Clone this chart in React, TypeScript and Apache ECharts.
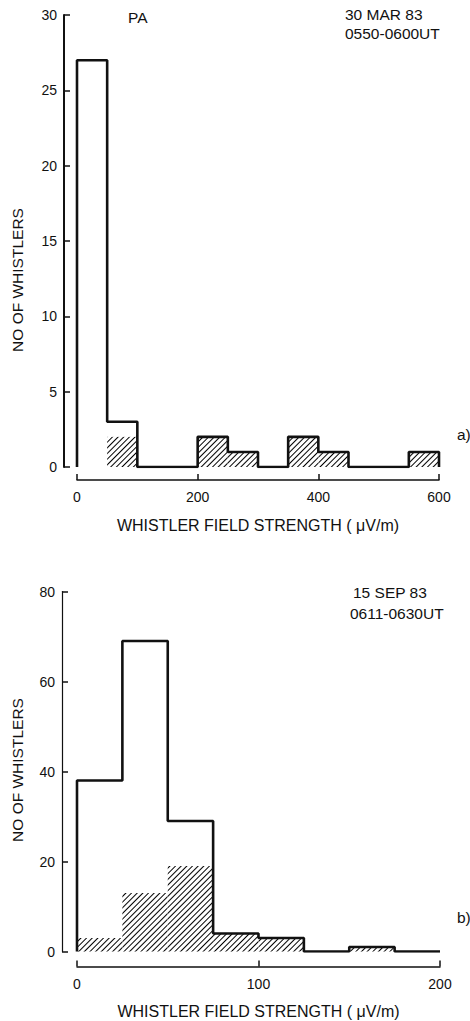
import React, { useEffect, useRef } from "react";
import * as echarts from "echarts";

// ---- data ----
const binsA = ["0-50", "50-100", "100-150", "150-200", "200-250", "250-300", "300-350", "350-400", "400-450", "450-500", "500-550", "550-600"];
const totalA = [27, 3, 0, 0, 2, 1, 0, 2, 1, 0, 0, 1];
const hatchA = [0, 2, 0, 0, 2, 1, 0, 2, 1, 0, 0, 1];
const binWidthA = 50;

const binsB = ["0-25", "25-50", "50-75", "75-100", "100-125", "125-150", "150-175", "175-200"];
const totalB = [38, 69, 29, 4, 3, 0, 1, 0];
const hatchB = [3, 13, 19, 4, 3, 0, 1, 0];
const binWidthB = 25;

const FONT = "'Liberation Sans', Arial, Helvetica, sans-serif";
const INK = "#111";

function stepPoints(vals: number[], w: number) {
  const pts: number[][] = [[0, 0]];
  vals.forEach((v, i) => {
    pts.push([i * w, v]);
    pts.push([(i + 1) * w, v]);
  });
  pts.push([vals.length * w, 0]);
  return pts;
}

const decal = {
  symbol: "rect",
  symbolSize: 1,
  color: "#000",
  backgroundColor: "#fff",
  dashArrayX: [1, 2.2],
  dashArrayY: [1, 0],
  rotation: Math.PI / 4,
};

function valueX(grid: number, max: number, interval: number, offset: number) {
  return {
    type: "value",
    gridIndex: grid,
    position: "bottom",
    min: 0,
    max,
    interval,
    offset,
    name: "WHISTLER FIELD STRENGTH ( \u03bcV/m)",
    nameLocation: "middle",
    nameGap: 37,
    nameTextStyle: { fontFamily: FONT, fontSize: 16, color: INK },
    axisLine: { show: true, onZero: false, lineStyle: { color: INK, width: 1.5 } },
    axisTick: { show: true, inside: true, length: 6, lineStyle: { color: INK, width: 1.5 } },
    axisLabel: { fontFamily: FONT, fontSize: 14, color: INK, margin: 10 },
    splitLine: { show: false },
  };
}

function catX(grid: number, cats: string[]) {
  return {
    type: "category",
    gridIndex: grid,
    position: "top",
    data: cats,
    boundaryGap: true,
    show: false,
    axisLine: { onZero: false },
  };
}

function valueY(grid: number, max: number, interval: number, offset: number, lw: number) {
  return {
    type: "value",
    gridIndex: grid,
    position: "left",
    min: 0,
    max,
    interval,
    offset,
    axisLine: { show: true, onZero: false, lineStyle: { color: INK, width: lw } },
    axisTick: { show: true, inside: true, length: 6, lineStyle: { color: INK, width: 1.5 } },
    axisLabel: { fontFamily: FONT, fontSize: 14, color: INK, margin: 7 },
    splitLine: { show: false },
  };
}

function txt(text: string, x: number, y: number, opts: any = {}) {
  return {
    type: "text",
    x,
    y,
    rotation: opts.rotation || 0,
    style: {
      text,
      fill: INK,
      font: `${opts.size || 15.5}px ${FONT}`,
      textAlign: opts.align || "left",
      textVerticalAlign: "middle",
    },
  };
}

export default function App() {
  const ref = useRef<HTMLDivElement>(null);
  useEffect(() => {
    if (!ref.current) return;
    const chart = echarts.init(ref.current, null, { renderer: "svg" });
    chart.setOption({
      animation: false,
      backgroundColor: "#fff",
      grid: [
        { left: 77, top: 15, width: 362, height: 452 },
        { left: 77, top: 591.5, width: 363, height: 360 },
      ],
      xAxis: [
        catX(0, binsA),
        valueX(0, 600, 200, 13),
        catX(1, binsB),
        valueX(1, 200, 100, 15),
      ],
      yAxis: [valueY(0, 30, 5, 13, 2), valueY(1, 80, 20, 15, 1.2)],
      series: [
        {
          type: "bar",
          xAxisIndex: 0,
          yAxisIndex: 0,
          data: hatchA,
          barWidth: "100%",
          itemStyle: { color: "#fff", decal },
          z: 2,
        },
        {
          type: "line",
          xAxisIndex: 1,
          yAxisIndex: 0,
          data: stepPoints(totalA, binWidthA),
          symbol: "none",
          lineStyle: { color: INK, width: 2.6 },
          z: 5,
        },
        {
          type: "bar",
          xAxisIndex: 2,
          yAxisIndex: 1,
          data: hatchB,
          barWidth: "100%",
          itemStyle: { color: "#fff", decal },
          z: 2,
        },
        {
          type: "line",
          xAxisIndex: 3,
          yAxisIndex: 1,
          data: stepPoints(totalB, binWidthB),
          symbol: "none",
          lineStyle: { color: INK, width: 2.6 },
          z: 5,
        },
      ],
      graphic: [
        txt("PA", 128, 17),
        txt("30 MAR 83", 345, 14),
        txt("0550-0600UT", 345, 33),
        txt("a)", 457, 434),
        txt("NO OF WHISTLERS", 17, 280, { rotation: Math.PI / 2, align: "center" }),
        txt("15 SEP 83", 353, 592),
        txt("0611-0630UT", 350, 613),
        txt("b)", 457, 917),
        txt("NO OF WHISTLERS", 17, 770, { rotation: Math.PI / 2, align: "center" }),
      ],
    });
    return () => chart.dispose();
  }, []);
  return (
    <div
      ref={ref}
      style={{ position: "absolute", left: 0, top: 0, width: 470, height: 1021, background: "#fff" }}
    />
  );
}
